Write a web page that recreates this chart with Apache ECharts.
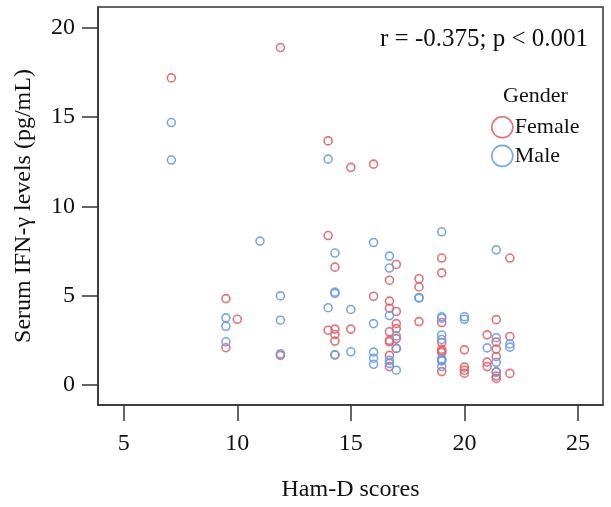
<!DOCTYPE html>
<html>
<head>
<meta charset="utf-8">
<script src="https://cdn.jsdelivr.net/npm/echarts@6/dist/echarts.min.js"></script>
<style>html,body{margin:0;padding:0;background:#fff}#c{width:611px;height:507px}</style>
</head>
<body>
<div id="c"></div>
<script>
var xTicks = [5, 10, 15, 20, 25];
var yTicks = [0, 5, 10, 15, 20];
var seriesNames = ['Female', 'Male'];
var femaleX = [7.1,11.9,9.5,10.0,9.5,11.9,14.0,15.0,16.0,14.0,14.3,14.0,14.3,14.3,14.3,14.3,15.0,16.0,16.7,16.7,16.7,16.7,16.7,16.7,16.7,16.7,17.0,17.0,17.0,17.0,17.0,17.0,18.0,18.0,18.0,19.0,19.0,19.0,19.0,19.0,19.0,19.0,19.0,19.0,20.0,20.0,20.0,20.0,21.0,21.0,21.0,21.4,21.4,21.4,21.4,21.4,21.4,21.4,22.0,22.0,22.0];
var femaleY = [17.2,18.9,4.84,3.68,2.09,1.66,13.67,12.19,12.37,8.37,6.6,3.07,3.13,2.83,2.46,1.69,3.13,4.97,5.87,4.7,4.3,2.98,2.5,2.42,1.66,1.03,6.75,4.12,3.44,3.16,2.6,2.05,5.95,5.49,3.55,7.11,6.28,3.5,2.38,2.0,1.9,1.82,1.4,0.75,1.97,1.0,0.83,0.66,2.81,1.28,1.03,3.66,2.4,2.01,1.6,0.74,0.5,0.37,7.11,2.72,0.65];
var maleX = [7.1,7.1,9.5,9.5,9.5,11.0,11.9,11.9,11.9,14.0,14.3,14.3,14.3,14.0,15.0,14.3,15.0,16.0,16.0,16.0,16.0,16.0,16.7,16.7,16.7,16.7,16.7,17.0,17.0,17.0,18.0,18.0,19.0,19.0,19.0,19.0,19.0,19.0,19.0,19.0,20.0,20.0,21.0,21.4,21.4,21.4,21.4,22.0,22.0];
var maleY = [14.7,12.6,3.76,3.29,2.42,8.06,4.99,3.63,1.75,12.65,7.39,5.2,5.13,4.33,4.23,1.69,1.86,7.98,3.44,1.84,1.5,1.16,7.22,6.55,3.89,1.38,1.21,2.75,2.05,0.83,4.9,4.86,8.58,3.82,3.74,2.8,2.55,1.45,1.35,1.03,3.82,3.68,2.08,7.57,2.65,1.27,0.72,2.3,2.12];
var annotation = 'r = -0.375; p < 0.001';
var legendTitle = 'Gender';
var xName = 'Ham-D scores';
var yName = 'Serum IFN-\u03b3 levels (pg/mL)';

var RED = '#e0636b';
var BLUE = '#6a9ce2';
var FONT = '"Liberation Serif", "Times New Roman", serif';

function zip(xs, ys) { return xs.map(function (x, i) { return [x, ys[i]]; }); }

var chart = echarts.init(document.getElementById('c'), null, { renderer: 'canvas' });
chart.setOption({
  backgroundColor: '#fff',
  animation: false,
  textStyle: { fontFamily: FONT, color: '#111' },
  title: [
    { text: annotation, right: 23, top: 27, padding: 0,
      textStyle: { fontFamily: FONT, fontSize: 25, fontWeight: 'normal', color: '#111' } },
    { text: legendTitle, left: 503, top: 85, padding: 0,
      textStyle: { fontFamily: FONT, fontSize: 22, fontWeight: 'normal', color: '#111' } }
  ],
  legend: {
    orient: 'vertical', left: 491, top: 116, padding: 0,
    itemWidth: 21, itemHeight: 21, itemGap: 6,
    textStyle: { fontFamily: FONT, fontSize: 22, color: '#111', padding: [0, 0, 0, -3] },
    data: [
      { name: seriesNames[0], icon: 'circle', itemStyle: { color: 'rgba(0,0,0,0)', borderColor: RED, borderWidth: 1.6 } },
      { name: seriesNames[1], icon: 'circle', itemStyle: { color: 'rgba(0,0,0,0)', borderColor: BLUE, borderWidth: 1.6 } }
    ]
  },
  grid: { left: 98, right: 8, top: 7, bottom: 100, show: true, borderColor: '#333', borderWidth: 1.5, backgroundColor: 'transparent' },
  xAxis: {
    type: 'value', min: 3.87, max: 26.1,
    name: xName, nameLocation: 'middle', nameGap: 73,
    nameTextStyle: { fontFamily: FONT, fontSize: 24, color: '#111' },
    axisLine: { show: true, onZero: false, lineStyle: { color: '#333', width: 1.5 } },
    axisTick: { show: true, length: 16, customValues: xTicks, lineStyle: { color: '#333', width: 1.5 } },
    axisLabel: { customValues: xTicks, margin: 27, fontFamily: FONT, fontSize: 24, color: '#111' },
    splitLine: { show: false }
  },
  yAxis: {
    type: 'value', min: -1.12, max: 21.17,
    name: yName, nameLocation: 'middle', nameGap: 62, nameRotate: 90,
    nameTextStyle: { fontFamily: FONT, fontSize: 24, color: '#111' },
    axisLine: { show: true, onZero: false, lineStyle: { color: '#333', width: 1.5 } },
    axisTick: { show: true, length: 16, customValues: yTicks, lineStyle: { color: '#333', width: 1.5 } },
    axisLabel: { customValues: yTicks, margin: 23, fontFamily: FONT, fontSize: 24, color: '#111' },
    splitLine: { show: false }
  },
  series: [
    { name: seriesNames[0], type: 'scatter', symbol: 'circle', symbolSize: 8,
      itemStyle: { color: 'rgba(0,0,0,0)', borderColor: RED, borderWidth: 1.6, opacity: 0.9 },
      data: zip(femaleX, femaleY) },
    { name: seriesNames[1], type: 'scatter', symbol: 'circle', symbolSize: 8,
      itemStyle: { color: 'rgba(0,0,0,0)', borderColor: BLUE, borderWidth: 1.6, opacity: 0.9 },
      data: zip(maleX, maleY) }
  ]
});
</script>
</body>
</html>
